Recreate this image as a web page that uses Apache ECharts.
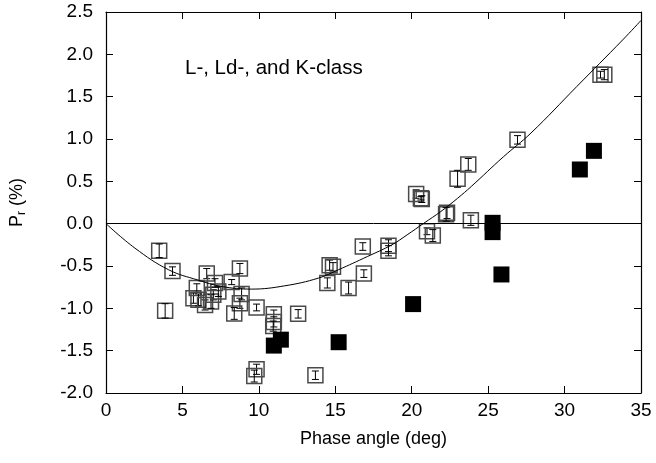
<!DOCTYPE html>
<html>
<head>
<meta charset="utf-8">
<script src="https://cdn.jsdelivr.net/npm/echarts@6/dist/echarts.min.js"></script>
<style>
  html, body { margin: 0; padding: 0; background: #fff; }
  #chart { width: 656px; height: 463px; }
</style>
</head>
<body>
<div id="chart"></div>
<script>
// open squares: phase angle, Pr, error (%)
var openX = [3.48, 4.35, 3.87, 5.72, 5.94, 6.05, 6.48, 6.59, 6.87, 7.02, 7.13, 7.35, 8.22, 8.76, 8.87, 8.76,
  8.39, 9.85, 10.98, 10.98, 10.94, 12.57, 9.85, 9.70, 13.70, 14.63, 14.85, 14.48, 15.87, 16.87, 16.80,
  18.48, 18.48, 20.29, 20.66, 20.60, 22.31, 22.25, 21.00, 21.38, 23.87, 23.00, 23.70, 26.92, 32.35, 32.60];
var openY = [-0.32, -0.56, -1.03, -0.88, -0.76, -0.90, -0.96, -0.59, -0.92, -0.84, -0.70, -0.80, -0.69, -0.53, -0.83, -0.94,
  -1.06, -0.99, -1.07, -1.16, -1.21, -1.065, -1.72, -1.80, -1.79, -0.49, -0.51, -0.70, -0.76, -0.59, -0.27,
  -0.26, -0.32, 0.35, 0.29, 0.30, 0.13, 0.11, -0.09, -0.14, 0.04, 0.53, 0.70, 0.99, 1.76, 1.76];
var openErr = [0.08, 0.05, 0.085, 0.06, 0.05, 0.07, 0.06, 0.06, 0.08, 0.06, 0.05, 0.06, 0.03, 0.06, 0.07, 0.06,
  0.07, 0.04, 0.05, 0.06, 0.06, 0.05, 0.06, 0.07, 0.05, 0.06, 0.05, 0.06, 0.07, 0.045, 0.045,
  0.07, 0.06, 0.05, 0.04, 0.02, 0.07, 0.08, 0.04, 0.07, 0.06, 0.10, 0.07, 0.05, 0.04, 0.06];

// filled squares
var filledX = [11.44, 10.98, 15.22, 20.09, 25.29, 25.29, 25.87, 31.00, 31.92];
var filledY = [-1.37, -1.44, -1.40, -0.95, 0.01, -0.10, -0.60, 0.64, 0.86];

// fitted curve
var curveX = [0, 1.9, 4.1, 6, 7.6, 9.5, 11.7, 13.9, 15.2, 17.1, 18.7, 19.7, 20.8, 21.9, 23, 23.9, 26, 27.8, 30.8, 33.8, 35];
var curveY = [0, -0.29, -0.545, -0.665, -0.743, -0.773, -0.734, -0.643, -0.545, -0.388, -0.25, -0.132, 0.006, 0.143, 0.30, 0.44, 0.79, 1.07, 1.62, 2.17, 2.40];

var xTicks = { min: 0, max: 35, interval: 5 };
var yTicks = { min: -2, max: 2.5, interval: 0.5 };

var openData = openX.map(function (x, i) { return [x, openY[i], openErr[i]]; });
var filledData = filledX.map(function (x, i) { return [x, filledY[i]]; });
var curveData = curveX.map(function (x, i) { return [x, curveY[i]]; });

var FONT = '"Liberation Sans", Arial, Helvetica, sans-serif';

function renderOpen(params, api) {
  var x = api.value(0), y = api.value(1), e = api.value(2);
  var c = api.coord([x, y]);
  var hi = api.coord([x, y + e])[1];
  var lo = api.coord([x, y - e])[1];
  var s = 15, cap = 3.5;
  return {
    type: 'group',
    children: [
      { type: 'rect', shape: { x: c[0] - s / 2, y: c[1] - s / 2, width: s, height: s },
        style: { fill: 'none', stroke: '#4a4a4a', lineWidth: 1.5 } },
      { type: 'line', shape: { x1: c[0], y1: hi, x2: c[0], y2: lo }, style: { stroke: '#000', lineWidth: 1 } },
      { type: 'line', shape: { x1: c[0] - cap, y1: hi, x2: c[0] + cap, y2: hi }, style: { stroke: '#000', lineWidth: 1 } },
      { type: 'line', shape: { x1: c[0] - cap, y1: lo, x2: c[0] + cap, y2: lo }, style: { stroke: '#000', lineWidth: 1 } }
    ]
  };
}

var axisLine = { show: true, onZero: false, lineStyle: { color: '#000', width: 1.2 } };
var axisTick = { show: true, inside: true, length: 7, lineStyle: { color: '#000', width: 1 } };

var myChart = echarts.init(document.getElementById('chart'));
myChart.setOption({
  animation: false,
  grid: { left: 104, right: 15, top: 12, bottom: 70 },
  graphic: [{
    type: 'text', left: 185, top: 58,
    style: { text: 'L-, Ld-, and K-class', font: '20.5px ' + FONT, fill: '#000' }
  }],
  xAxis: [{
    type: 'value', min: xTicks.min, max: xTicks.max, interval: xTicks.interval,
    name: 'Phase angle (deg)', nameLocation: 'middle', nameGap: 37,
    nameTextStyle: { fontSize: 18, fontFamily: FONT, color: '#000' },
    axisLine: axisLine, axisTick: axisTick, splitLine: { show: false },
    axisLabel: { fontSize: 19, fontFamily: FONT, color: '#000', margin: 8 }
  }, {
    type: 'value', position: 'top', min: xTicks.min, max: xTicks.max, interval: xTicks.interval,
    axisLine: axisLine, axisTick: axisTick, splitLine: { show: false }, axisLabel: { show: false }
  }],
  yAxis: [{
    type: 'value', min: yTicks.min, max: yTicks.max, interval: yTicks.interval,
    name: '{p|P}{s|r}{p| (%)}', nameLocation: 'middle', nameGap: 78,
    nameTextStyle: {
      rich: {
        p: { fontSize: 18, fontFamily: FONT, color: '#000' },
        s: { fontSize: 12, fontFamily: FONT, color: '#000', padding: [10, 0, 0, 0] }
      }
    },
    axisLine: axisLine, axisTick: axisTick, splitLine: { show: false },
    axisLabel: { fontSize: 19, fontFamily: FONT, color: '#000', margin: 13,
      formatter: function (v) { return v.toFixed(1); } }
  }, {
    type: 'value', position: 'right', min: yTicks.min, max: yTicks.max, interval: yTicks.interval,
    axisLine: axisLine, axisTick: axisTick, splitLine: { show: false }, axisLabel: { show: false }
  }],
  series: [{
    type: 'line', data: curveData, smooth: 0.4, showSymbol: false, silent: true,
    lineStyle: { color: '#000', width: 1 },
    markLine: {
      silent: true, symbol: 'none', label: { show: false },
      lineStyle: { color: '#000', width: 1, type: 'solid' },
      data: [{ yAxis: 0 }]
    }
  }, {
    type: 'custom', data: openData, renderItem: renderOpen, silent: true
  }, {
    type: 'scatter', data: filledData, symbol: 'rect', symbolSize: 16, silent: true,
    itemStyle: { color: '#000', opacity: 1 }
  }]
});
window.addEventListener('resize', function () { myChart.resize(); });
</script>
</body>
</html>
